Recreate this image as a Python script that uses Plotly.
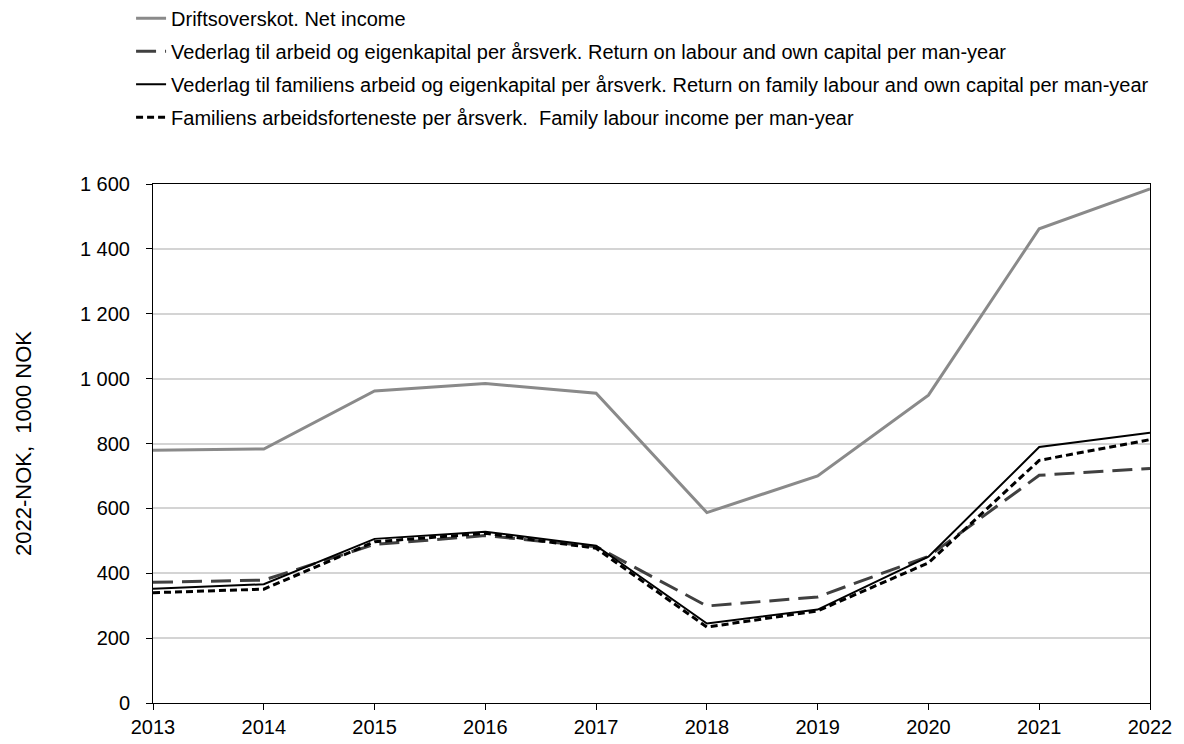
import plotly.graph_objects as go

years = [2013, 2014, 2015, 2016, 2017, 2018, 2019, 2020, 2021, 2022]
net_income = [779, 783, 962, 985, 955, 587, 700, 949, 1462, 1585]
return_labour_capital = [372, 379, 489, 516, 482, 299, 327, 452, 702, 723]
return_family = [352, 366, 506, 528, 485, 245, 288, 451, 789, 833]
family_labour_income = [340, 351, 497, 523, 477, 234, 284, 432, 748, 812]

names = [
    "Driftsoverskot. Net income",
    "Vederlag til arbeid og eigenkapital per årsverk. Return on labour and own capital per man-year",
    "Vederlag til familiens arbeid og eigenkapital per årsverk. Return on family labour and own capital per man-year",
    "Familiens arbeidsforteneste per årsverk.  Family labour income per man-year",
]
y_ticks = [0, 200, 400, 600, 800, 1000, 1200, 1400, 1600]

fig = go.Figure()
styles = [
    dict(color="#8a8a8a", width=3, dash="solid"),
    dict(color="#404040", width=3, dash="20px,9px"),
    dict(color="#000000", width=2, dash="solid"),
    dict(color="#000000", width=3, dash="7px,4px"),
]
for i, (ys, nm, st) in enumerate(zip(
        [net_income, return_labour_capital, return_family, family_labour_income], names, styles)):
    fig.add_trace(go.Scatter(x=years, y=ys, name=nm, mode="lines", line=st,
                             legendgroup=f"g{i}"))

fig.update_layout(
    width=1184, height=744,
    margin=dict(l=153, r=34, t=184, b=41, autoexpand=False),
    paper_bgcolor="white", plot_bgcolor="white",
    font=dict(family="Liberation Sans, Arial, sans-serif", color="#000000"),
    separators=", ",
    showlegend=True,
    legend=dict(
        x=-0.022, xanchor="left", y=1.357, yanchor="top",
        orientation="v", tracegroupgap=4,
        font=dict(size=20, color="#000000"),
        bgcolor="rgba(0,0,0,0)",
    ),
    xaxis=dict(
        range=[2013, 2022], tickvals=years, ticktext=[str(y) for y in years],
        showline=True, linecolor="#000000", linewidth=1, mirror=True,
        ticks="outside", ticklen=6, tickcolor="#000000",
        showgrid=False, zeroline=False,
        tickfont=dict(size=20), ticklabelstandoff=0,
    ),
    yaxis=dict(
        range=[0, 1600], tickvals=y_ticks, tickformat=",d",
        showline=True, linecolor="#000000", linewidth=1, mirror=True,
        ticks="outside", ticklen=6, tickcolor="#000000",
        showgrid=True, gridcolor="#d4d4d4", gridwidth=1.5,
        zeroline=False,
        tickfont=dict(size=20), ticklabelstandoff=12,
        title=dict(text="2022-NOK,  1000 NOK", font=dict(size=22), standoff=42),
    ),
)

fig.write_html("out.html", post_script="document.body.style.margin='0';",
               config={"displayModeBar": False})
